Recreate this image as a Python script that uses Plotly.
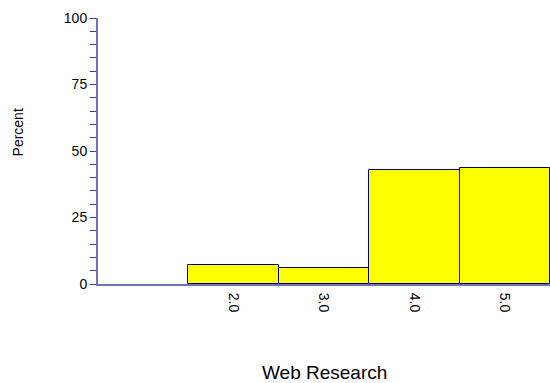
import plotly.graph_objects as go

# histogram of Web Research scores (percent of respondents)
categories = [1.0, 2.0, 3.0, 4.0, 5.0]
percents = [0.0, 7.1, 6.2, 43.0, 43.7]
x_ticks = [2.0, 3.0, 4.0, 5.0]
x_tick_text = ["2.0", "3.0", "4.0", "5.0"]
y_ticks = [0, 25, 50, 75, 100]

axis_blue = "#7070c0"
tick_blue = "#3c3ca0"

# empty classes get no outline
outline_w = [1 if p > 0 else 0 for p in percents]

fig = go.Figure(
    go.Bar(
        x=categories,
        y=percents,
        width=1.0,
        marker=dict(color="#ffff00", line=dict(color="#000080", width=outline_w)),
        hoverinfo="x+y",
    )
)

fig.update_layout(
    width=550,
    height=383,
    margin=dict(l=98, r=0, t=18, b=99),
    paper_bgcolor="white",
    plot_bgcolor="white",
    showlegend=False,
    bargap=0,
    font=dict(family="Liberation Sans, Arial, sans-serif", size=14, color="black"),
    annotations=[
        dict(text="Percent", xref="paper", yref="paper", x=-0.178, y=0.568,
             textangle=-90, showarrow=False, font=dict(size=14),
             xanchor="center", yanchor="middle"),
        dict(text="Web Research", xref="paper", yref="paper", x=0.5, y=-0.331,
             showarrow=False, font=dict(size=19),
             xanchor="center", yanchor="middle"),
    ],
)

fig.update_xaxes(
    range=[0.5, 5.5],
    tickvals=x_ticks,
    ticktext=x_tick_text,
    tickangle=90,
    ticks="",
    ticklabelstandoff=4,
    showgrid=False,
    zeroline=False,
    showline=True,
    linecolor=axis_blue,
    linewidth=2,
    automargin=False,
)

fig.update_yaxes(
    range=[0, 100],
    tickvals=y_ticks,
    ticks="outside",
    ticklen=6,
    tickcolor=tick_blue,
    tickwidth=1,
    minor=dict(dtick=5, ticks="outside", ticklen=6, tickcolor=tick_blue, tickwidth=1, showgrid=False),
    showgrid=False,
    zeroline=False,
    showline=True,
    linecolor=axis_blue,
    linewidth=2,
    automargin=False,
)

# drop the browser's default body margin so the figure fills the window
fig.write_html("out.html", config={"displayModeBar": False},
               post_script="document.body.style.margin='0';")
